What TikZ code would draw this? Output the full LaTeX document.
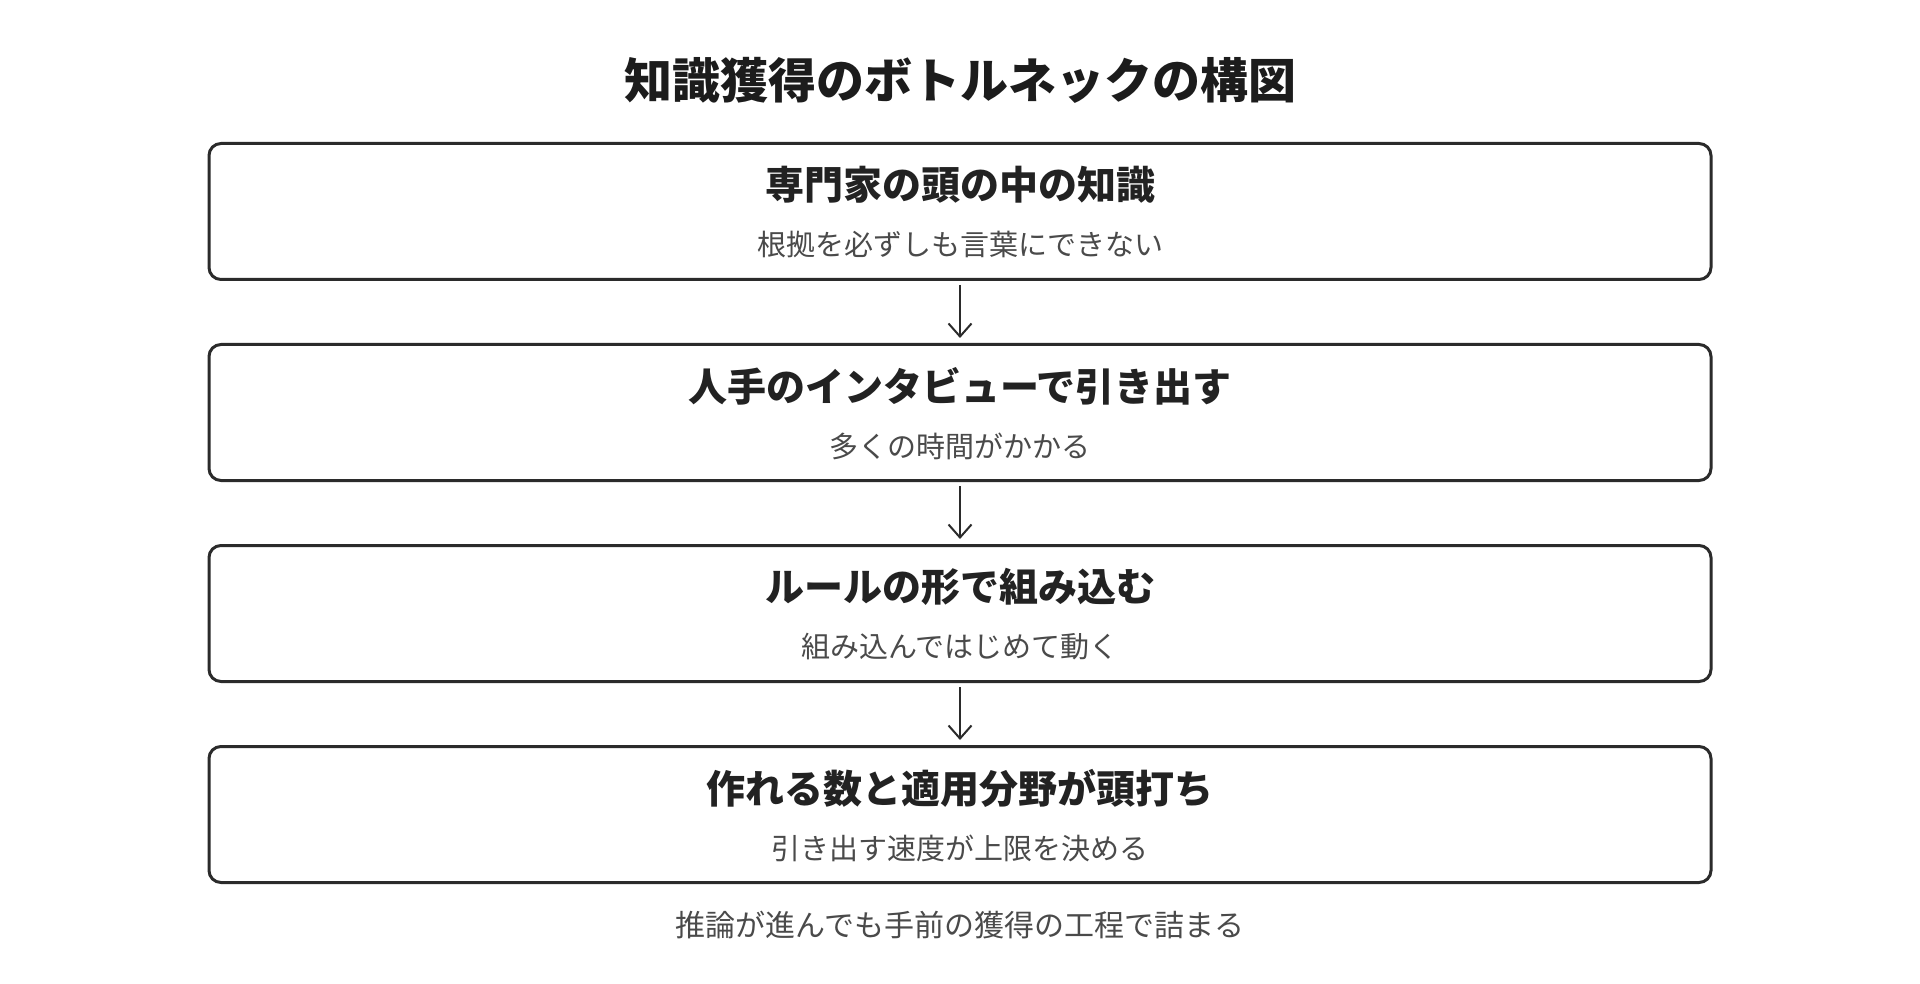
\documentclass[tikz,border=0pt]{standalone}
\usepackage{fontspec}
\setmainfont{Noto Sans CJK JP}
\usetikzlibrary{arrows.meta}
\definecolor{titleink}{HTML}{1C1C1C}
\definecolor{headink}{HTML}{222222}
\definecolor{subink}{HTML}{4A4A4A}
\definecolor{boxline}{HTML}{2B2B2B}
\tikzset{
  stepbox/.style={draw=boxline, line width=3pt, rounded corners=12pt, minimum width=1502pt, minimum height=136pt, inner sep=0pt},
  titletext/.style={text=titleink, font=\fontsize{48}{58}\selectfont\bfseries, inner sep=0pt},
  headtext/.style={text=headink, font=\fontsize{39}{47}\selectfont\bfseries, inner sep=0pt},
  subtext/.style={text=subink, font=\fontsize{29}{35}\selectfont, inner sep=0pt},
  foottext/.style={text=subink, font=\fontsize{30}{36}\selectfont, inner sep=0pt},
  flow/.style={draw=boxline, line width=2pt, -{Straight Barb[length=13pt,width=23pt]}}
}
\begin{document}
\begin{tikzpicture}[x=1pt,y=-1pt]
\useasboundingbox[fill=white] (0,0) rectangle (1920,984);
\node[titletext] (title) at (960,80) {知識獲得のボトルネックの構図};

\node[stepbox] (b1) at (960,211.5) {};
\node[headtext] (h1) at (960,185) {専門家の頭の中の知識};
\node[subtext] (s1) at (960,245) {根拠を必ずしも言葉にできない};

\node[stepbox] (b2) at (960,412.5) {};
\node[headtext] (h2) at (960,386) {人手のインタビューで引き出す};
\node[subtext] (s2) at (960,446) {多くの時間がかかる};

\node[stepbox] (b3) at (960,613.5) {};
\node[headtext] (h3) at (960,587) {ルールの形で組み込む};
\node[subtext] (s3) at (960,647) {組み込んではじめて動く};

\node[stepbox] (b4) at (960,814.5) {};
\node[headtext] (h4) at (960,788) {作れる数と適用分野が頭打ち};
\node[subtext] (s4) at (960,848) {引き出す速度が上限を決める};

\node[foottext] (foot) at (960,925) {推論が進んでも手前の獲得の工程で詰まる};

\draw[flow] ([yshift=-4pt]b1.south) -- ([yshift=5pt]b2.north);
\draw[flow] ([yshift=-4pt]b2.south) -- ([yshift=5pt]b3.north);
\draw[flow] ([yshift=-4pt]b3.south) -- ([yshift=5pt]b4.north);
\end{tikzpicture}
\end{document}
